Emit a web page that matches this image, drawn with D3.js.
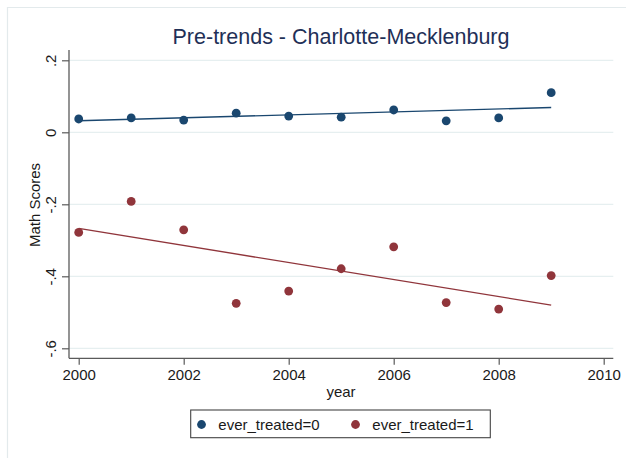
<!DOCTYPE html>
<html>
<head>
<meta charset="utf-8">
<script src="https://cdn.jsdelivr.net/npm/d3@7"></script>
<style>
  html, body { margin: 0; padding: 0; background: #fff; }
  svg { display: block; font-family: "Liberation Sans", Arial, sans-serif; }
</style>
</head>
<body>
<svg id="chart" width="626" height="458"></svg>
<script>
// Group means of math scores by year
const years = [2000, 2001, 2002, 2003, 2004, 2005, 2006, 2007, 2008, 2009];
const controlMeans = [0.037, 0.040, 0.034, 0.053, 0.045, 0.042, 0.062, 0.032, 0.040, 0.110];
const treatedMeans = [-0.278, -0.192, -0.271, -0.475, -0.441, -0.379, -0.318, -0.473, -0.491, -0.398];

// Linear-fit values at the first and last year
const fitYears = [2000, 2009];
const controlFit = [0.032, 0.069];
const treatedFit = [-0.267, -0.480];

const seriesNames = ["ever_treated=0", "ever_treated=1"];
const xTicks = [2000, 2002, 2004, 2006, 2008, 2010];
const yTicks = [0.2, 0, -0.2, -0.4, -0.6];
const yTickLabels = [".2", "0", "-.2", "-.4", "-.6"];

const colors = ["#1a476f", "#90353b"];

const svg = d3.select("#chart");

// plot region
const plot = { left: 69, right: 613.3, top: 50, bottom: 358.3 };

const x = d3.scaleLinear().domain([2000, 2010]).range([78.7, 603.7]);
const y = d3.scaleLinear().domain([-0.6, 0.2]).range([348.3, 60.3]);

// outer window frame
svg.append("path")
  .attr("d", "M7.5,470V7.5H640")
  .attr("fill", "none")
  .attr("stroke", "#e3eaec")
  .attr("stroke-width", 1.2);

// title
svg.append("text")
  .attr("x", 341)
  .attr("y", 44)
  .attr("text-anchor", "middle")
  .attr("font-size", 21.5)
  .attr("fill", "#1f3057")
  .text("Pre-trends - Charlotte-Mecklenburg");

// horizontal gridlines
svg.append("g").selectAll("line")
  .data(yTicks)
  .join("line")
  .attr("x1", plot.left)
  .attr("x2", plot.right)
  .attr("y1", d => y(d))
  .attr("y2", d => y(d))
  .attr("stroke", "#e6eff0")
  .attr("stroke-width", 1.3);

// fitted lines
const fitLine = d3.line()
  .x(d => x(d[0]))
  .y(d => y(d[1]));

[controlFit, treatedFit].forEach((fit, i) => {
  svg.append("path")
    .datum(fitYears.map((yr, j) => [yr, fit[j]]))
    .attr("d", fitLine)
    .attr("fill", "none")
    .attr("stroke", colors[i])
    .attr("stroke-width", 1.4);
});

// scatter points
[controlMeans, treatedMeans].forEach((vals, i) => {
  svg.append("g").selectAll("circle")
    .data(years.map((yr, j) => [yr, vals[j]]))
    .join("circle")
    .attr("cx", d => x(d[0]))
    .attr("cy", d => y(d[1]))
    .attr("r", 4.4)
    .attr("fill", colors[i]);
});

// y axis
const yAxis = svg.append("g")
  .attr("transform", `translate(${plot.left},0)`)
  .call(d3.axisLeft(y)
    .tickValues(yTicks)
    .tickFormat((d, i) => yTickLabels[i])
    .tickSize(7)
    .tickSizeOuter(0));
yAxis.select(".domain").remove();
yAxis.append("line")
  .attr("x1", 0).attr("x2", 0)
  .attr("y1", plot.top).attr("y2", plot.bottom)
  .attr("stroke", "#5a5a5a").attr("stroke-width", 1.3);
yAxis.selectAll(".tick line").attr("stroke", "#5a5a5a").attr("stroke-width", 1.2);
yAxis.selectAll(".tick text")
  .attr("transform", "rotate(-90)")
  .attr("x", 0)
  .attr("y", -13)
  .attr("dy", 0)
  .attr("text-anchor", "middle")
  .attr("font-size", 15)
  .attr("font-family", "Liberation Sans, Arial, sans-serif")
  .attr("fill", "#1a1a1a");

// x axis
const xAxis = svg.append("g")
  .attr("transform", `translate(0,${plot.bottom})`)
  .call(d3.axisBottom(x)
    .tickValues(xTicks)
    .tickFormat(d3.format("d"))
    .tickSize(6.5)
    .tickSizeOuter(0));
xAxis.select(".domain").remove();
xAxis.append("line")
  .attr("x1", plot.left).attr("x2", plot.right)
  .attr("y1", 0).attr("y2", 0)
  .attr("stroke", "#5a5a5a").attr("stroke-width", 1.3);
xAxis.selectAll(".tick line").attr("stroke", "#5a5a5a").attr("stroke-width", 1.2);
xAxis.selectAll(".tick text")
  .attr("y", 21.7)
  .attr("dy", 0)
  .attr("font-size", 15)
  .attr("font-family", "Liberation Sans, Arial, sans-serif")
  .attr("fill", "#1a1a1a");

// axis titles
svg.append("text")
  .attr("x", 341)
  .attr("y", 397)
  .attr("text-anchor", "middle")
  .attr("font-size", 15)
  .attr("fill", "#1a1a1a")
  .text("year");

svg.append("text")
  .attr("transform", "translate(40,205) rotate(-90)")
  .attr("text-anchor", "middle")
  .attr("font-size", 15)
  .attr("fill", "#1a1a1a")
  .text("Math Scores");

// legend
const legend = svg.append("g");
legend.append("rect")
  .attr("x", 190.7)
  .attr("y", 410)
  .attr("width", 299.6)
  .attr("height", 27.7)
  .attr("fill", "#fff")
  .attr("stroke", "#444")
  .attr("stroke-width", 1.1);

const legendMarkerX = [201.5, 355.5];
const legendTextX = [218.3, 372.3];
seriesNames.forEach((name, i) => {
  legend.append("circle")
    .attr("cx", legendMarkerX[i])
    .attr("cy", 424.5)
    .attr("r", 4.4)
    .attr("fill", colors[i]);
  legend.append("text")
    .attr("x", legendTextX[i])
    .attr("y", 430)
    .attr("font-size", 15)
    .attr("fill", "#1a1a1a")
    .text(name);
});
</script>
</body>
</html>
